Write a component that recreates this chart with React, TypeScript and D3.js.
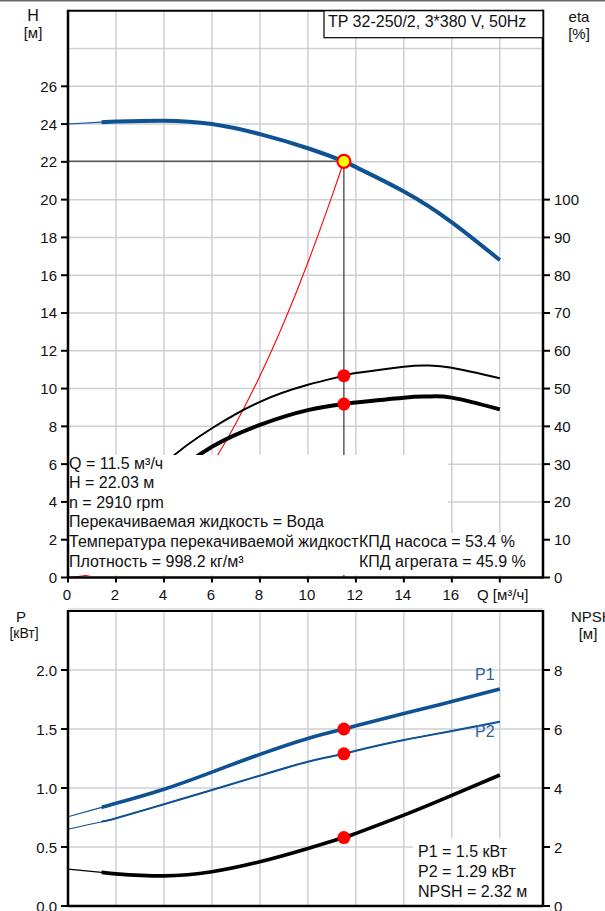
import React from 'react'
import * as d3 from 'd3'

// pump curve
const flow = [0, 1.4, 2, 4, 6, 8, 10, 11.5, 12, 14, 16, 18]
const head = [24.0, 24.1, 24.13, 24.18, 24.0, 23.47, 22.72, 22.03, 21.72, 20.43, 18.8, 16.8]
const p1 = [0.757, 0.836, 0.87, 0.99, 1.135, 1.285, 1.42, 1.5, 1.527, 1.632, 1.733, 1.839]
const p2 = [0.65, 0.714, 0.743, 0.862, 0.983, 1.105, 1.223, 1.29, 1.316, 1.407, 1.483, 1.562]
const npsh = [1.25, 1.14, 1.09, 1.02, 1.16, 1.5, 1.95, 2.32, 2.46, 3.08, 3.75, 4.44]

const etaFlow = [2, 4, 6, 8, 10, 11.5, 12, 14, 15, 16, 18]
const etaPump = [16, 30, 39.5, 46.5, 51, 53.4, 54.1, 55.8, 56.1, 55.5, 52.7]
const etaTotal = [12, 25, 34.6, 40.4, 44.3, 45.9, 46.3, 47.6, 47.9, 47.6, 44.5]

// system curve
const sysFlow = [0, 1, 2, 3, 4, 5, 6, 7, 8, 9, 10, 11, 11.5]
const sysHead = [0, 0.17, 0.67, 1.5, 2.67, 4.17, 6.0, 8.17, 10.67, 13.5, 16.67, 20.17, 22.03]

// duty point
const dutyQ = 11.5
const dutyH = 22.03
const dutyEtaPump = 53.4
const dutyEtaTotal = 45.9
const dutyP1 = 1.5
const dutyP2 = 1.29
const dutyNpsh = 2.32

const qTicks = [0, 2, 4, 6, 8, 10, 12, 14, 16]
const qGrid = [2, 4, 6, 8, 10, 12, 14, 16, 18]
const hTicks = [0, 2, 4, 6, 8, 10, 12, 14, 16, 18, 20, 22, 24, 26]
const hGrid = [2, 4, 6, 8, 10, 12, 14, 16, 18, 20, 22, 24, 26, 28]
const etaTicks = [0, 10, 20, 30, 40, 50, 60, 70, 80, 90, 100]
const pTicks = [0, 0.5, 1.0, 1.5, 2.0]
const npshTicks = [0, 2, 4, 6, 8]

const infoLines = [
  'Q = 11.5 м³/ч',
  'H = 22.03 м',
  'n = 2910 rpm',
  'Перекачиваемая жидкость = Вода',
  'Температура перекачиваемой жидкост',
  'Плотность = 998.2 кг/м³',
]
const effLines = ['КПД насоса = 53.4 %', 'КПД агрегата = 45.9 %']
const powerLines = ['P1 = 1.5 кВт', 'P2 = 1.29 кВт', 'NPSH = 2.32 м']

const BLUE = '#0f5293'
const GRID = '#ccd0d5'
const FONT = '"Liberation Sans", Arial, sans-serif'
const THIN_END = 1.4 // curves are drawn thin below this flow

export default function App() {
  const L = 68, R = 543
  const x = d3.scaleLinear().domain([0, 19.8]).range([L, R])
  const yH = d3.scaleLinear().domain([0, 30]).range([577.5, 10.7])
  const yEta = d3.scaleLinear().domain([0, 150]).range([577.5, 10.7])
  const yP = d3.scaleLinear().domain([0, 2.5]).range([906, 611])
  const yN = d3.scaleLinear().domain([0, 10]).range([906, 611])

  const mk = (ys: number[], ya: d3.ScaleLinear<number, number>, xs: number[] = flow) =>
    d3.line<number>().x((_, i) => x(xs[i])).y(d => ya(d)).curve(d3.curveNatural)(ys) || ''

  const topY = yH(30), botY = yH(0)
  const topP = yP(2.5), botP = yP(0)

  // a curve drawn thin, then thick from THIN_END onwards
  const twoPart = (ys: number[], ya: d3.ScaleLinear<number, number>, color: string, w: number) => (
    <g>
      <path d={mk(ys, ya)} fill="none" stroke={color} strokeWidth={1.1} />
      <path d={mk(ys, ya)} fill="none" stroke={color} strokeWidth={w} clipPath="url(#thick)" />
    </g>
  )

  return (
    <svg width={605} height={911} style={{ position: 'absolute', left: 0, top: 0, background: '#fff' }}
      fontFamily={FONT}>
      <defs>
        <clipPath id="thick">
          <rect x={x(THIN_END)} y={0} width={R - x(THIN_END)} height={911} />
        </clipPath>
      </defs>
      <rect x={0} y={0} width={605} height={1.5} fill="#666" />
      <line x1={L} x2={R} y1={609} y2={609} stroke="#d8d8d8" strokeWidth={1.5} />

      {/* ---------- top chart ---------- */}
      <g>
        {qGrid.map(q => (
          <line key={'vg' + q} x1={x(q)} x2={x(q)} y1={topY} y2={botY} stroke={GRID} strokeWidth={1.5} />
        ))}
        {hGrid.map(h => (
          <line key={'hg' + h} x1={L} x2={R} y1={yH(h)} y2={yH(h)} stroke={GRID} strokeWidth={1.5} />
        ))}

        <path d={mk(sysHead, yH, sysFlow)} fill="none" stroke="#ff0000" strokeWidth={1.1} />
        <path d={mk(etaPump, yEta, etaFlow)} fill="none" stroke="#000" strokeWidth={2} />
        <path d={mk(etaTotal, yEta, etaFlow)} fill="none" stroke="#000" strokeWidth={4} />

        <line x1={L} x2={x(dutyQ)} y1={yH(dutyH)} y2={yH(dutyH)} stroke="#555" strokeWidth={1.6} />
        <line x1={x(dutyQ)} x2={x(dutyQ)} y1={yH(dutyH)} y2={botY} stroke="#333" strokeWidth={1.2} />

        {twoPart(head, yH, BLUE, 4)}

        <circle cx={x(dutyQ)} cy={yEta(dutyEtaPump)} r={6.5} fill="#ff0000" />
        <circle cx={x(dutyQ)} cy={yEta(dutyEtaTotal)} r={6.5} fill="#ff0000" />
        <circle cx={x(dutyQ)} cy={yH(dutyH)} r={6.5} fill="#ffff00" stroke="#ff0000" strokeWidth={2.2} />

        {/* text backgrounds */}
        <rect x={L + 1} y={455} width={447 - L} height={120} fill="#fff" />
        <rect x={357} y={533} width={R - 357} height={42} fill="#fff" />
        {infoLines.map((t, i) => (
          <text key={t} x={69} y={468.5 + i * 19.6} fontSize={16} fill="#111">{t}</text>
        ))}
        {effLines.map((t, i) => (
          <text key={t} x={359} y={547.3 + i * 20} fontSize={16} fill="#111">{t}</text>
        ))}

        {/* frame and axes */}
        <line x1={L} x2={R} y1={topY} y2={topY} stroke="#000" strokeWidth={2} />
        <line x1={L} x2={L} y1={topY - 1} y2={botY + 1} stroke="#000" strokeWidth={2.5} />
        <line x1={R} x2={R} y1={topY - 1} y2={botY + 1} stroke="#000" strokeWidth={2.5} />
        <line x1={L} x2={R} y1={botY} y2={botY} stroke="#000" strokeWidth={2.5} />

        {hTicks.map(h => (
          <g key={'ht' + h}>
            <line x1={61} x2={L} y1={yH(h)} y2={yH(h)} stroke="#000" strokeWidth={2} />
            <text x={57} y={yH(h) + 5.5} fontSize={15} textAnchor="end" fill="#111">{h}</text>
          </g>
        ))}
        {etaTicks.map(e => (
          <g key={'et' + e}>
            <line x1={R} x2={550} y1={yEta(e)} y2={yEta(e)} stroke="#000" strokeWidth={2} />
            <text x={554} y={yEta(e) + 5.5} fontSize={15} fill="#111">{e}</text>
          </g>
        ))}
        {qTicks.map(q => (
          <g key={'qt' + q}>
            <line x1={x(q)} x2={x(q)} y1={botY} y2={botY + 5} stroke="#000" strokeWidth={2} />
            <text x={x(q) - 1} y={600} fontSize={15} textAnchor="middle" fill="#111">{q}</text>
          </g>
        ))}
        <line x1={x(18)} x2={x(18)} y1={botY} y2={botY + 5} stroke="#000" strokeWidth={2} />
        <text x={477} y={600} fontSize={15} fill="#111">Q [м³/ч]</text>

        <text x={33} y={21} fontSize={16} textAnchor="middle" fill="#111">H</text>
        <text x={33} y={38} fontSize={15} textAnchor="middle" fill="#111">[м]</text>
        <text x={579} y={22} fontSize={15} textAnchor="middle" fill="#111">eta</text>
        <text x={579} y={39} fontSize={15} textAnchor="middle" fill="#111">[%]</text>

        <rect x={324} y={topY} width={R - 324} height={27} fill="#fff" stroke="#000" strokeWidth={1.2} />
        <text x={328} y={27} fontSize={16} fill="#111">TP 32-250/2, 3*380 V, 50Hz</text>
      </g>

      {/* ---------- bottom chart ---------- */}
      <g>
        {qGrid.map(q => (
          <line key={'bvg' + q} x1={x(q)} x2={x(q)} y1={topP} y2={botP} stroke={GRID} strokeWidth={1.5} />
        ))}
        {pTicks.slice(1).map(p => (
          <line key={'bhg' + p} x1={L} x2={R} y1={yP(p)} y2={yP(p)} stroke={GRID} strokeWidth={1.5} />
        ))}

        {twoPart(npsh, yN, '#000', 3.6)}
        {twoPart(p2, yP, BLUE, 2)}
        {twoPart(p1, yP, BLUE, 3.6)}

        <circle cx={x(dutyQ)} cy={yP(dutyP1)} r={6.5} fill="#ff0000" />
        <circle cx={x(dutyQ)} cy={yP(dutyP2)} r={6.5} fill="#ff0000" />
        <circle cx={x(dutyQ)} cy={yN(dutyNpsh)} r={6.5} fill="#ff0000" />

        <text x={475} y={680} fontSize={16} fill="#2a64a0">P1</text>
        <text x={475} y={736.5} fontSize={16} fill="#2a64a0">P2</text>

        <rect x={413} y={838} width={R - 413} height={66} fill="#fff" />
        {powerLines.map((t, i) => (
          <text key={t} x={418} y={856.7 + i * 20} fontSize={16} fill="#111">{t}</text>
        ))}

        <line x1={L} x2={R} y1={topP} y2={topP} stroke="#000" strokeWidth={2} />
        <line x1={L} x2={L} y1={topP - 1} y2={botP + 1} stroke="#000" strokeWidth={2.5} />
        <line x1={R} x2={R} y1={topP - 1} y2={botP + 1} stroke="#000" strokeWidth={2.5} />
        <line x1={L} x2={R} y1={botP} y2={botP} stroke="#000" strokeWidth={2.5} />

        {pTicks.map(p => (
          <g key={'pt' + p}>
            <line x1={61} x2={L} y1={yP(p)} y2={yP(p)} stroke="#000" strokeWidth={2} />
            <text x={57} y={yP(p) + 5.5} fontSize={15} textAnchor="end" fill="#111">{p.toFixed(1)}</text>
          </g>
        ))}
        {npshTicks.map(n => (
          <g key={'nt' + n}>
            <line x1={R} x2={550} y1={yN(n)} y2={yN(n)} stroke="#000" strokeWidth={2} />
            <text x={554} y={yN(n) + 5.5} fontSize={15} fill="#111">{n}</text>
          </g>
        ))}

        <text x={21} y={622} fontSize={15} textAnchor="middle" fill="#111">P</text>
        <text x={24} y={638} fontSize={14} textAnchor="middle" fill="#111">[кВт]</text>
        <text x={571} y={622} fontSize={15} fill="#111">NPSH</text>
        <text x={588} y={639} fontSize={15} textAnchor="middle" fill="#111">[м]</text>
      </g>
    </svg>
  )
}
